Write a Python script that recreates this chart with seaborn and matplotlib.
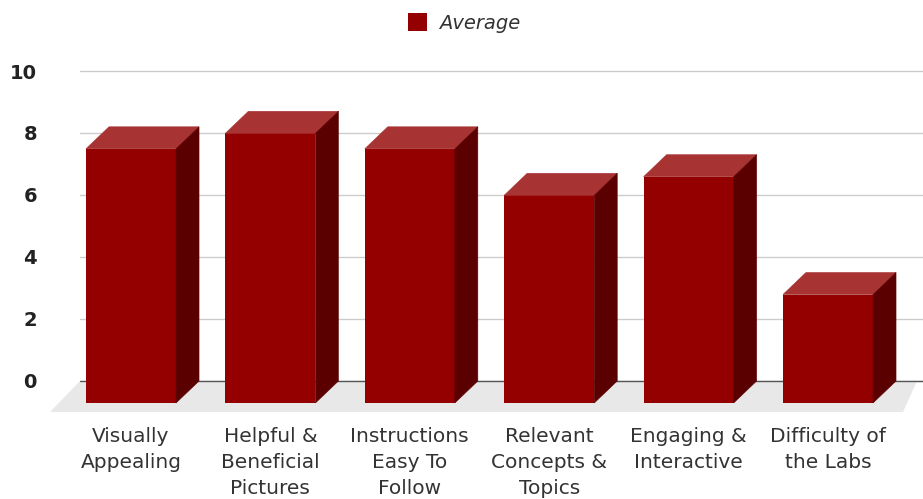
import matplotlib
matplotlib.use("Agg")
import matplotlib.pyplot as plt
import seaborn as sns
import pandas as pd
from matplotlib.patches import Polygon, Patch

# ---- data ----
categories = ["Visually\nAppealing", "Helpful &\nBeneficial\nPictures",
              "Instructions\nEasy To\nFollow", "Relevant\nConcepts &\nTopics",
              "Engaging &\nInteractive", "Difficulty of\nthe Labs"]
averages = [8.2, 8.7, 8.2, 6.7, 7.3, 3.5]
y_ticks = [0, 2, 4, 6, 8, 10]
series_name = "Average"

FRONT = "#940000"
TOP = "#a83333"
SIDE = "#5a0000"

sns.set_theme(style="white")
plt.rcParams["font.family"] = ["DejaVu Sans"]

W, H = 923, 499
fig = plt.figure(figsize=(W / 100, H / 100), dpi=100)
# axes spanning the back wall area (pixels: left 80, right 923, top 50, bottom 412)
ax = fig.add_axes([80 / W, (H - 412) / H, (923 - 80) / W, (412 - 50) / H])

df = pd.DataFrame({"cat": categories, "val": averages})
sns.barplot(data=df, x="cat", y="val", color=FRONT, width=0.646,
            saturation=1, ax=ax, zorder=3, edgecolor="none")

px_per_x = 139.4
px_per_y = 31.0
ax.set_xlim((80 - 131) / px_per_x, (923 - 131) / px_per_x)
ax.set_ylim((381 - 412) / px_per_y, (381 - 50) / px_per_y)

# depth of bars in data units
dx = 23 / px_per_x
dy = 22 / px_per_y

# floor
fx = 30 / px_per_x
fy = 31 / px_per_y
xl, xr = ax.get_xlim()
floor = Polygon([(xl - fx, -fy), ((903 - 131) / px_per_x, -fy),
                 ((917 - 131) / px_per_x, 0), (xl, 0)],
                closed=True, facecolor="#e8e8e8", edgecolor="none",
                zorder=1, clip_on=False)
ax.add_patch(floor)
ax.axhline(0, color="#555555", lw=1.0, zorder=2)

# grid
ax.set_yticks(y_ticks)
ax.yaxis.grid(True, color="#cccccc", lw=1.0, zorder=0)
ax.set_axisbelow(True)

for p in list(ax.patches):
    if p is floor:
        continue
    x0, w, h = p.get_x(), p.get_width(), p.get_height()
    p.set_y(-dy)
    p.set_clip_on(False)
    top = Polygon([(x0, h - dy), (x0 + w, h - dy), (x0 + w + dx, h), (x0 + dx, h)],
                  closed=True, facecolor=TOP, edgecolor=TOP, lw=0.4, zorder=3, clip_on=False)
    side = Polygon([(x0 + w, -dy), (x0 + w + dx, 0), (x0 + w + dx, h), (x0 + w, h - dy)],
                   closed=True, facecolor=SIDE, edgecolor=SIDE, lw=0.4, zorder=3.1, clip_on=False)
    ax.add_patch(top)
    ax.add_patch(side)

for s in ax.spines.values():
    s.set_visible(False)

ax.set_xlabel("")
ax.set_ylabel("")
ax.tick_params(axis="y", length=0, pad=31, labelsize=14, labelcolor="#222222")
ax.tick_params(axis="x", length=0, pad=11, labelsize=14.5, labelcolor="#333333")
for t in ax.get_yticklabels():
    t.set_fontweight("bold")
for t in ax.get_xticklabels():
    t.set_horizontalalignment("center")
    t.set_multialignment("center")
    t.set_linespacing(1.45)

handle = Patch(facecolor=FRONT, edgecolor="none")
fig.legend([handle], [series_name], loc="center",
           bbox_to_anchor=(464 / W, 1 - 23 / H), frameon=False,
           prop={"size": 14, "style": "italic"}, labelcolor="#333333",
           handlelength=1.0, handleheight=1.0, handletextpad=0.6, borderpad=0)

fig.savefig("out.png", dpi=100)
